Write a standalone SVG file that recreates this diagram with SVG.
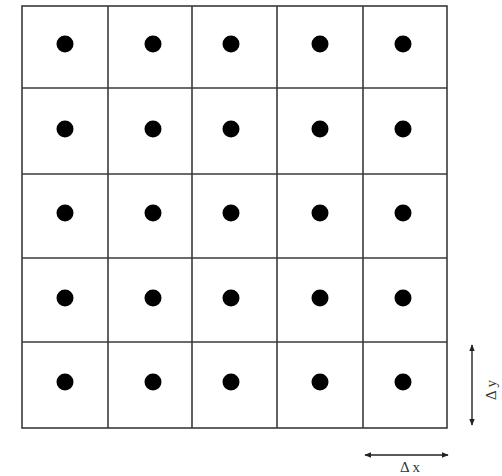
<svg xmlns="http://www.w3.org/2000/svg" width="502" height="476" viewBox="0 0 502 476">
<style>
.g{stroke:#3a3a3a;stroke-width:1.6;fill:none}
.d{fill:#000}
.a{stroke:#222;stroke-width:1.4;fill:none}
.t{font-family:"Liberation Serif",serif;font-size:15px;fill:#333}
</style>
<defs>
<marker id="ah" viewBox="0 0 10 10" refX="9" refY="5" markerWidth="7" markerHeight="7" orient="auto-start-reverse" markerUnits="userSpaceOnUse">
<path d="M0,1 L10,5 L0,9 z" fill="#222"/>
</marker>
</defs>
<rect width="502" height="476" fill="#fff"/>
<g id="grid">
<rect class="g" x="22" y="6" width="425" height="422"/>
<line class="g" x1="108" y1="6" x2="108" y2="428"/>
<line class="g" x1="192" y1="6" x2="192" y2="428"/>
<line class="g" x1="277" y1="6" x2="277" y2="428"/>
<line class="g" x1="363" y1="6" x2="363" y2="428"/>
<line class="g" x1="22" y1="88" x2="447" y2="88"/>
<line class="g" x1="22" y1="174" x2="447" y2="174"/>
<line class="g" x1="22" y1="258" x2="447" y2="258"/>
<line class="g" x1="22" y1="342" x2="447" y2="342"/>
</g>
<g id="dots">
<g class="d">
<circle cx="65" cy="44" r="8.5"/><circle cx="153" cy="44" r="8.5"/><circle cx="231" cy="44" r="8.5"/><circle cx="320" cy="44" r="8.5"/><circle cx="403" cy="44" r="8.5"/>
<circle cx="65" cy="129" r="8.5"/><circle cx="153" cy="129" r="8.5"/><circle cx="231" cy="129" r="8.5"/><circle cx="320" cy="129" r="8.5"/><circle cx="403" cy="129" r="8.5"/>
<circle cx="65" cy="213" r="8.5"/><circle cx="153" cy="213" r="8.5"/><circle cx="231" cy="213" r="8.5"/><circle cx="320" cy="213" r="8.5"/><circle cx="403" cy="213" r="8.5"/>
<circle cx="65" cy="298" r="8.5"/><circle cx="153" cy="298" r="8.5"/><circle cx="231" cy="298" r="8.5"/><circle cx="320" cy="298" r="8.5"/><circle cx="403" cy="298" r="8.5"/>
<circle cx="65" cy="382" r="8.5"/><circle cx="153" cy="382" r="8.5"/><circle cx="231" cy="382" r="8.5"/><circle cx="320" cy="382" r="8.5"/><circle cx="403" cy="382" r="8.5"/>
</g>
</g>
<g id="connectors">
<line class="a" x1="472" y1="345" x2="472" y2="425" marker-start="url(#ah)" marker-end="url(#ah)"/>
<line class="a" x1="365" y1="455" x2="448" y2="455" marker-start="url(#ah)" marker-end="url(#ah)"/>
</g>
<g id="labels">
<text class="t" x="0" y="0" text-anchor="middle" transform="translate(496,390) rotate(-90)">Δ y</text>
<text class="t" x="410" y="472" text-anchor="middle">Δ x</text>
</g>
</svg>
